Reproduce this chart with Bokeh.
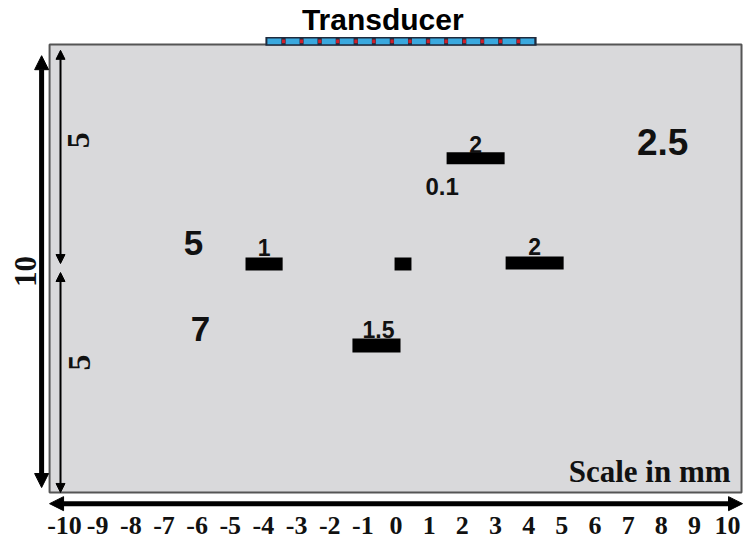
from bokeh.plotting import figure
from bokeh.models import Range1d, Arrow, NormalHead, ColumnDataSource
from bokeh.core.properties import value
from bokeh.embed import file_html
from bokeh.resources import INLINE

# ---- data (mm) ----
field_x = [-10.45, 10.42]          # lateral extent of imaging field
field_depth = [0.0, 10.0]          # depth extent

# reflectors: lateral centre, depth centre, width, thickness
refl_x = [-3.98, 0.21, -0.59, 2.40, 4.18]
refl_depth = [4.90, 4.90, 6.72, 2.54, 4.88]
refl_width = [1.12, 0.51, 1.45, 1.75, 1.75]
refl_thick = [0.29, 0.29, 0.31, 0.27, 0.29]

# width labels on top of reflectors
wlab_text = ["1", "1.5", "2", "2"]
wlab_x = [-3.98, -0.53, 2.40, 4.18]
wlab_depth = [4.53, 6.37, 2.23, 4.52]

# depth / size labels
dlab_text = ["5", "7", "2.5", "0.1"]
dlab_x = [-6.11, -5.90, 8.04, 1.39]
dlab_depth = [4.44, 6.34, 2.17, 3.16]
dlab_size = ["35px", "35px", "37px", "24px"]

# transducer elements
elem_x = [-3.67, -3.12, -2.58, -2.03, -1.49, -0.94, -0.40, 0.15,
          0.69, 1.24, 1.78, 2.33, 2.87, 3.42, 3.96]
sep_x = [-3.39, -2.85, -2.30, -1.76, -1.21, -0.67, -0.12, 0.42,
         0.97, 1.51, 2.06, 2.60, 3.15, 3.69]
transducer_span = [-3.94, 4.24]

# x tick labels
tick_vals = [-10, -9, -8, -7, -6, -5, -4, -3, -2, -1, 0, 1, 2, 3, 4, 5, 6, 7, 8, 9, 10]
tick_labels = [str(v) for v in tick_vals]

# dimension arrows
dim_total = 10
dim_half = 5

SANS = value("Liberation Sans")
SERIF = value("Liberation Serif")

p = figure(width=745, height=539, output_backend="svg", toolbar_location=None,
           x_range=Range1d(-11.93, 10.54), y_range=Range1d(11.05, -0.982),
           min_border=0, background_fill_color="white", border_fill_color="white")
p.axis.visible = False
p.grid.visible = False
p.outline_line_color = None

# field box
p.quad(left=[field_x[0]], right=[field_x[1]], top=[field_depth[0]], bottom=[field_depth[1]],
       fill_color="#d9d9db", line_color="#555555", line_width=2)

# reflectors
p.rect(x=refl_x, y=refl_depth, width=refl_width, height=refl_thick,
       fill_color="black", line_color=None)

# transducer
tc = (transducer_span[0] + transducer_span[1]) / 2
tw = transducer_span[1] - transducer_span[0]
p.rect(x=[tc], y=[-0.07], width=[tw], height=[0.2], fill_color="#1f2a3d", line_color=None)
p.rect(x=elem_x, y=-0.07, width=0.42, height=0.13, fill_color="#3aa8de", line_color=None)
p.rect(x=sep_x, y=-0.07, width=0.1, height=0.08, fill_color="#d0202a", line_color=None)

p.text(x=[tc - 0.55], y=[-0.56], text=["Transducer"], text_font=SANS, text_font_style="bold",
       text_font_size="30px", text_align="center", text_baseline="middle", text_color="black")

# width labels
p.text(x=wlab_x, y=wlab_depth, text=wlab_text, text_font=SANS, text_font_style="bold",
       text_font_size="23px", text_align="center", text_baseline="middle", text_color="#111111")

src = ColumnDataSource(dict(x=dlab_x, y=dlab_depth, t=dlab_text, s=dlab_size))
p.text(x="x", y="y", text="t", text_font_size="s", source=src, text_font=SANS,
       text_font_style="bold", text_align="center", text_baseline="middle", text_color="#111111")

# scale label
p.text(x=[10.09], y=[9.53], text=["Scale in mm"], text_font=SERIF, text_font_style="bold",
       text_font_size="31px", text_align="right", text_baseline="middle", text_color="#111111")

# x tick labels
p.text(x=tick_vals, y=[10.74] * len(tick_vals), text=tick_labels, text_font=SERIF,
       text_font_style="bold", text_font_size="26px", text_align="center",
       text_baseline="middle", text_color="#111111")

# arrows
def dbl_arrow(x0, y0, x1, y1, lw, size):
    p.add_layout(Arrow(x_start=x0, y_start=y0, x_end=x1, y_end=y1, line_width=lw,
                       line_color="black",
                       start=NormalHead(size=size, fill_color="black", line_color="black"),
                       end=NormalHead(size=size, fill_color="black", line_color="black")))

dbl_arrow(-10.69, 0.25, -10.69, 0.25 + dim_total * 0.964, 5, 14)
dbl_arrow(-10.12, 0.13, -10.12, 0.13 + dim_half * 0.952, 2, 9)
dbl_arrow(-10.12, 5.09, -10.12, 5.09 + dim_half * 0.982, 2, 9)
dbl_arrow(field_x[0], 10.25, field_x[1] + 0.03, 10.25, 5, 14)

# dimension labels (rotated)
p.text(x=[-11.18], y=[5.07], text=[str(dim_total)], angle=1.5708, text_font=SERIF,
       text_font_style="bold", text_font_size="31px", text_align="center",
       text_baseline="middle", text_color="#111111")
p.text(x=[-9.58, -9.55], y=[2.14, 7.10], text=[str(dim_half)] * 2, angle=1.5708, text_font=SERIF,
       text_font_style="bold", text_font_size="32px", text_align="center",
       text_baseline="middle", text_color="#111111")

open("out.html", "w").write(file_html(p, INLINE))
